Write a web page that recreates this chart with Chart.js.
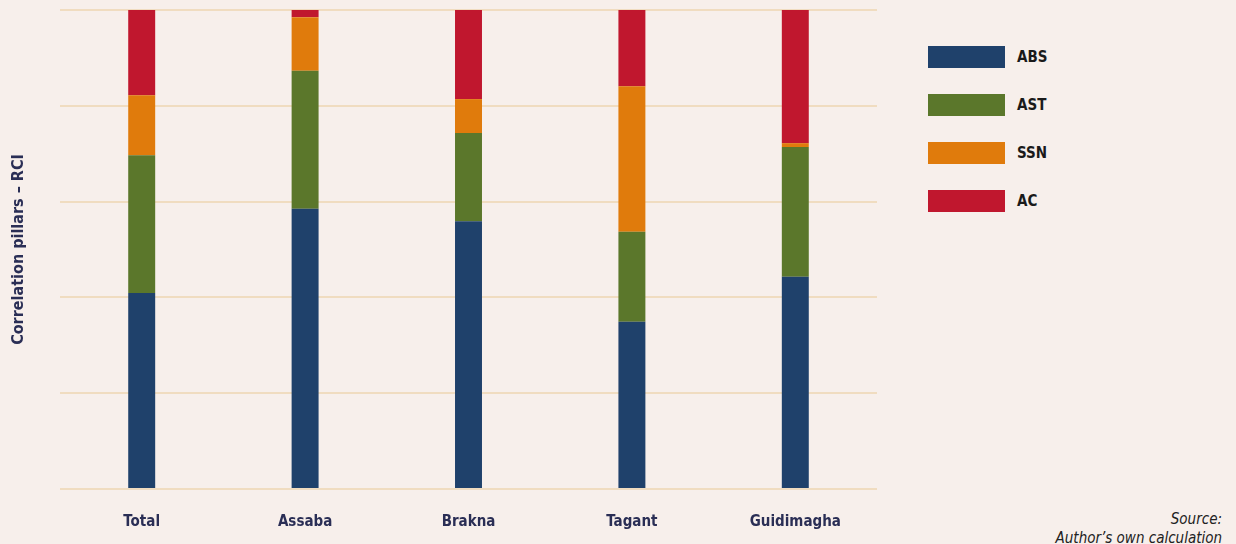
<!DOCTYPE html>
<html>
<head>
<meta charset="utf-8">
<script src="https://cdn.jsdelivr.net/npm/chart.js@4/dist/chart.umd.min.js"></script>
<style>
  html, body { margin: 0; padding: 0; background: #f7efeb; }
  #wrap { position: relative; width: 1236px; height: 544px; }
  #chartBox { position: absolute; left: 0; top: 0; width: 900px; height: 544px; }
  #legend { position: absolute; left: 928px; top: 46px; }
  .item { display: flex; align-items: center; height: 22px; margin-bottom: 26px; }
  .swatch { width: 77px; height: 22px; margin-right: 12px; }
  .item span { font: bold 15px "DejaVu Sans Condensed", Roboto, sans-serif; color: #1a1a1a; }
  #source { position: absolute; right: 14px; top: 510px; text-align: right;
    font: italic 15px "DejaVu Sans Condensed", Roboto, sans-serif; color: #222; line-height: 19px; }
</style>
</head>
<body>
<div id="wrap">
  <div id="chartBox"><canvas id="pillarChart"></canvas></div>
  <div id="legend"></div>
  <div id="source">Source:<br>Author’s own calculation</div>
</div>
<script>
/* ---------- DATA ---------- */

const regions = ["Total", "Assaba", "Brakna", "Tagant", "Guidimagha"];
const absValues = [40.9, 58.5, 55.9, 34.9, 44.3];
const astValues = [28.8, 28.8, 18.4, 18.8, 27.1];
const ssnValues = [12.5, 11.2, 7.1, 30.4, 0.8];
const acValues  = [17.8, 1.5, 18.6, 15.9, 27.8];
const seriesNames = ["ABS", "AST", "SSN", "AC"];
const seriesColors = ["#1f416b", "#5b772b", "#e07b0c", "#c0172e"];

/* ---------- CHART ---------- */

const seriesData = [absValues, astValues, ssnValues, acValues];

const datasets = seriesNames.map((name, i) => ({
  label: name,
  data: seriesData[i],
  backgroundColor: seriesColors[i],
  borderWidth: 0,
  barPercentage: 0.165,
  categoryPercentage: 1
}));

const ctx = document.getElementById("pillarChart").getContext("2d");

new Chart(ctx, {
  type: "bar",
  data: { labels: regions, datasets },
  options: {
    responsive: true,
    maintainAspectRatio: false,
    animation: false,
    layout: { padding: { top: 10, right: 23, left: 0, bottom: 0 } },
    plugins: {
      legend: { display: false },
      tooltip: { enabled: false }
    },
    scales: {
      x: {
        stacked: true,
        grid: { display: false },
        border: { display: false },
        ticks: {
          padding: 16,
          color: "#2a2e55",
          font: { family: "'DejaVu Sans Condensed', Roboto, sans-serif", size: 15, weight: "bold" }
        },
        afterFit: (scale) => { scale.height = 55; }
      },
      y: {
        stacked: true,
        min: 0,
        max: 100,
        ticks: { display: false, stepSize: 20 },
        grid: { color: "#f0dcc0", lineWidth: 2, drawTicks: false },
        border: { display: false },
        title: {
          display: true,
          text: "Correlation pillars – RCI",
          color: "#2a2e55",
          padding: { top: 9, bottom: 0 },
          font: { family: "'DejaVu Sans Condensed', Roboto, sans-serif", size: 16, weight: "bold" }
        },
        afterFit: (scale) => { scale.width = 60; }
      }
    }
  }
});

/* ---------- LEGEND ---------- */

const legendEl = document.getElementById("legend");
seriesNames.forEach((name, i) => {
  const item = document.createElement("div");
  item.className = "item";
  item.innerHTML = '<div class="swatch" style="background:' + seriesColors[i] + '"></div><span>' + name + '</span>';
  legendEl.appendChild(item);
});
</script>
</body>
</html>
